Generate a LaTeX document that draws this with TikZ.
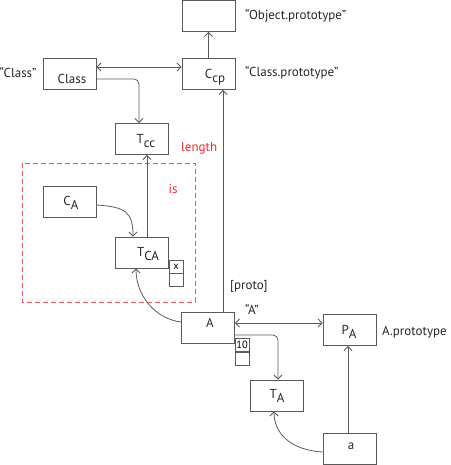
\documentclass[tikz,border=0pt]{standalone}
\usepackage{fontspec}
\setmainfont{PT Sans}
\usetikzlibrary{arrows.meta}
\definecolor{ln}{HTML}{5A5A5A}
\definecolor{rd}{HTML}{EE2A33}
\definecolor{dr}{HTML}{F2545B}
\tikzset{
  box/.style={draw=ln, line width=0.9pt, minimum width=53pt, minimum height=31pt, inner sep=0pt},
  mini/.style={draw=ln, line width=0.8pt, minimum width=14pt, minimum height=13pt, inner sep=0pt, font=\fontsize{10.5}{10}\selectfont},
  txt/.style={inner sep=0pt, font=\fontsize{13}{15}\selectfont, text=black!85},
  lbl/.style={txt, anchor=west},
  red/.style={txt, text=rd},
  conn/.style={draw=ln, line width=0.8pt, -{Straight Barb[length=4pt,width=8pt]}},
  dconn/.style={draw=ln, line width=0.8pt, {Straight Barb[length=4pt,width=8pt]}-{Straight Barb[length=4pt,width=8pt]}}
}
\newcommand{\sbs}[2]{#1\raisebox{-4pt}{#2}}
\begin{document}
\begin{tikzpicture}[x=1pt,y=-1pt]
\useasboundingbox (0,0) rectangle (450,465);
% boxes
\node[box] (obj) at (208.5,16) {};
\node[box] (class) at (69.5,74) {};
\node[box] (ccp) at (208.5,74) {};
\node[box] (tcc) at (142,139) {};
\node[box] (ca) at (70,201.5) {};
\node[box] (tca) at (142,252.5) {};
\node[box] (A) at (208,327.5) {};
\node[box] (pa) at (349.5,330) {};
\node[box] (ta) at (277,395.5) {};
\node[box] (a) at (349.5,448.5) {};
% small boxes
\node[mini] (xb) at (176,266.5) {x};
\node[mini, anchor=north] (xb2) at (xb.south) {};
\node[mini] (tb) at (242,345) {10};
\node[mini, anchor=north] (tb2) at (tb.south) {};
% dashed region
\draw[dr, dashed, line width=0.8pt, dash pattern=on 5pt off 3pt] (22,163) rectangle (195,302);
% texts in boxes
\node[txt] (tclass) at (72,79) {Class};
\node[txt] (tccp) at (215,77) {\sbs{C}{cp}};
\node[txt] (ttcc) at (146,141) {\sbs{T}{cc}};
\node[txt] (tca1) at (71,203) {\sbs{C}{A}};
\node[txt] (ttca) at (148,254) {\sbs{T}{CA}};
\node[txt] (tA) at (210,323) {A};
\node[txt] (tpa) at (349,332) {\sbs{P}{A}};
\node[txt] (tta) at (277,396) {\sbs{T}{A}};
\node[txt] (ta1) at (351,446) {a};
% labels
\node[lbl] (lobj) at (245,16) {“Object.prototype”};
\node[lbl] (lclass) at (-0.5,73) {“Class”};
\node[lbl] (lccp) at (245,73) {“Class.prototype”};
\node[red, anchor=west] (llen) at (181,148) {length};
\node[red] (lis) at (173,189) {is};
\node[lbl] (lproto) at (230,286) {[proto]};
\node[txt] (lAq) at (252,309) {“A”};
\node[lbl] (lpa) at (382,332) {A.prototype};
% connectors
\draw[conn] (ccp.north) -- (obj.south);
\draw[dconn] ([yshift=7pt]class.east) -- ([yshift=7pt]class.east -| ccp.west);
\draw[conn, rounded corners=5pt] ([yshift=-5pt]class.east) -| ([xshift=-3pt]tcc.north);
\draw[conn] ([xshift=5pt]tca.north) -- ([xshift=5pt]tcc.south);
\draw[conn] ([yshift=-3.5pt]ca.east) .. controls +(28,2) and +(0,-25) .. ([xshift=-9pt]tca.north);
\draw[conn] ([yshift=5.5pt]A.west) .. controls +(-25,-3) and +(0,28) .. ([xshift=-6pt]tca.south);
\draw[conn] ([xshift=15pt]A.north) -- ([xshift=15pt]A.north |- ccp.south);
\draw[dconn] ([yshift=4.5pt]A.east) -- ([yshift=4.5pt]A.east -| pa.west);
\draw[conn, rounded corners=5pt] ([yshift=-7.5pt]A.east) -| ([xshift=1pt]ta.north);
\draw[conn] ([xshift=-1.5pt]a.north) -- ([xshift=-1.5pt]a.north |- pa.south);
\draw[conn] ([yshift=-3.5pt]a.west) .. controls +(-32,-2) and +(0,22) .. ([xshift=-3pt]ta.south);
\end{tikzpicture}
\end{document}
